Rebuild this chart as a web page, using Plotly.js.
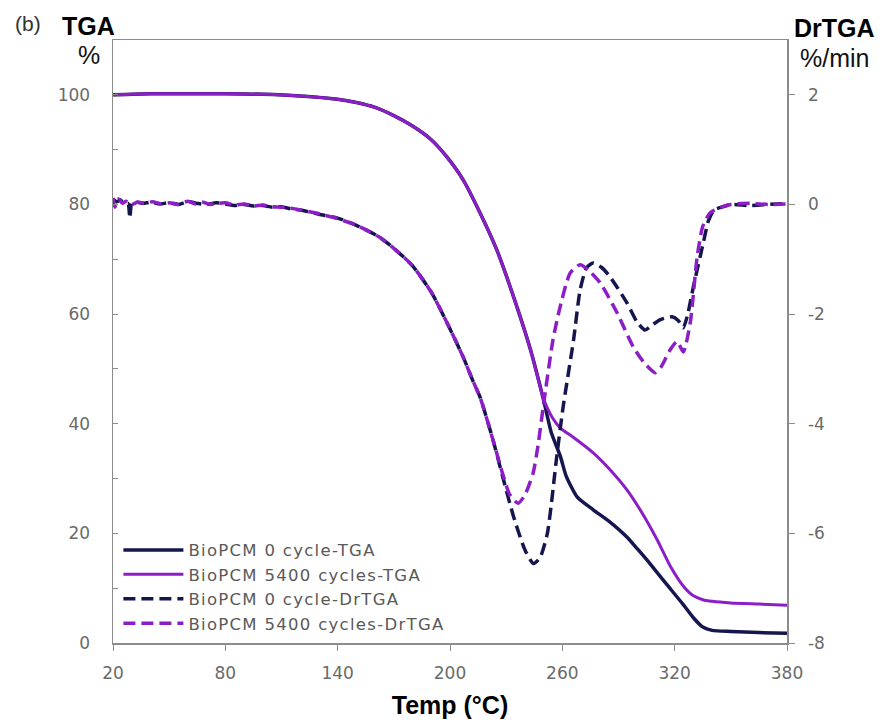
<!DOCTYPE html>
<html>
<head>
<meta charset="utf-8">
<script src="https://cdn.plot.ly/plotly-3.0.1.min.js"></script>
<style>html,body{margin:0;padding:0;background:#fff;}#chart{width:888px;height:727px;}
.legendtext{letter-spacing:1.3px;}</style>
</head>
<body>
<div id="chart"></div>
<script>
// Temperature grids (°C) and TGA mass (%)
const tempTGA0 = [20, 40, 60, 80, 100, 120, 140, 150, 160, 170, 180, 190, 198, 207, 216, 225, 234, 243, 250, 254, 259, 262, 268, 276.5, 285, 294.6, 300, 307, 315, 324.6, 330, 335, 340, 350, 365, 380];
const tga0     = [100, 100.2, 100.2, 100.2, 100.1, 99.8, 99.2, 98.6, 97.7, 96.2, 94.3, 91.8, 88.8, 84.5, 78.5, 71.7, 63.1, 53.5, 44.3, 38.5, 34, 30.5, 26.6, 24.3, 22.2, 19.3, 17.2, 14.4, 11, 7.0, 4.6, 2.9, 2.3, 2.1, 1.9, 1.8];

const tempTGA5400 = [20, 40, 60, 80, 100, 120, 140, 150, 160, 170, 180, 190, 198, 207, 216, 225, 234, 243, 250, 254, 259, 266, 276.5, 285, 294.6, 303, 310.7, 318, 325, 330, 335, 340, 350, 365, 380];
const tga5400     = [100, 100.2, 100.2, 100.2, 100.1, 99.8, 99.2, 98.6, 97.7, 96.2, 94.3, 91.8, 88.8, 84.5, 78.5, 71.7, 63.1, 53.5, 44.5, 41.5, 39.2, 37.5, 34.7, 31.8, 27.9, 23.5, 18.8, 13.8, 10.2, 8.6, 7.9, 7.6, 7.3, 7.1, 6.9];

// DrTGA (%/min)
const tempDr0 = [20, 22, 24, 26, 28, 29, 30, 32, 36, 40, 45, 50, 55, 60, 65, 70, 75, 80, 85, 90, 95, 100, 105, 110, 115, 120, 130, 140, 150, 162, 170, 180, 190, 199, 207, 212, 216, 223, 228, 234, 240, 244.5, 248, 252, 257, 260.4, 266, 269.5, 273, 276.5, 281, 285.5, 294.6, 300, 304.2, 308, 312.3, 318.6, 322, 324.6, 327, 330, 335.3, 338, 341, 345, 350, 360, 370, 380];
const dr0     = [0.1, 0.05, 0.08, 0.0, 0.02, -0.25, 0.03, 0.05, 0.02, 0.04, 0.01, 0.03, 0.0, 0.05, 0.02, 0.0, 0.03, 0.01, -0.02, 0.0, -0.03, -0.02, -0.05, -0.04, -0.08, -0.1, -0.18, -0.25, -0.38, -0.59, -0.8, -1.12, -1.6, -2.2, -2.78, -3.2, -3.51, -4.3, -4.95, -5.7, -6.3, -6.55, -6.45, -6.0, -4.6, -3.7, -2.47, -1.56, -1.15, -1.07, -1.15, -1.32, -1.8, -2.15, -2.29, -2.2, -2.1, -2.05, -2.12, -2.25, -2.0, -1.5, -0.7, -0.3, -0.1, -0.05, 0.0, -0.02, 0.0, 0.02];

const tempDr5400 = [20, 21, 23, 25, 27, 30, 33, 37, 41, 46, 50, 55, 60, 64, 68, 72, 76, 80, 85, 90, 95, 100, 105, 110, 115, 120, 130, 140, 150, 162, 170, 180, 190, 199, 207, 212, 216, 223, 228, 232, 236.4, 240, 244.4, 247, 249.8, 255, 258.8, 264.2, 269.5, 274, 280.2, 289.3, 297.9, 304, 309.6, 313, 317.6, 321.3, 324.6, 328.3, 332, 335, 339, 345, 350, 360, 370, 380];
const dr5400     = [0.12, -0.05, 0.1, 0.02, 0.06, 0.0, 0.04, 0.02, 0.05, 0.01, 0.03, 0.0, 0.06, 0.01, 0.04, 0.0, 0.02, 0.03, -0.01, 0.01, -0.03, -0.01, -0.04, -0.05, -0.07, -0.1, -0.17, -0.26, -0.38, -0.59, -0.8, -1.12, -1.6, -2.2, -2.78, -3.2, -3.51, -4.3, -4.9, -5.3, -5.45, -5.3, -4.9, -4.4, -3.69, -2.47, -1.87, -1.25, -1.1, -1.2, -1.43, -1.98, -2.6, -2.9, -3.07, -2.95, -2.65, -2.5, -2.69, -2.16, -0.96, -0.4, -0.15, -0.05, 0.0, 0.02, 0.0, 0.01];

const seriesNames = ["BioPCM 0 cycle-TGA", "BioPCM 5400 cycles-TGA", "BioPCM 0 cycle-DrTGA", "BioPCM 5400 cycles-DrTGA"];
const xTicks = [20, 80, 140, 200, 260, 320, 380];
const yTicks = [0, 20, 40, 60, 80, 100];
const y2Ticks = [-8, -6, -4, -2, 0, 2];

const NAVY = "#16164f";
const PURPLE = "#8c1ec8";
const tickFont = {family: "DejaVu Sans, sans-serif", size: 17, color: "#6a6a6a"};
const axisGray = "#8c8c8c";

const traces = [
  {x: tempTGA0, y: tga0, name: seriesNames[0], mode: "lines", line: {color: NAVY, width: 3.5, shape: "spline", smoothing: 0.6}},
  {x: tempTGA5400, y: tga5400, name: seriesNames[1], mode: "lines", line: {color: PURPLE, width: 3, shape: "spline", smoothing: 0.6}},
  {x: tempDr0, y: dr0, name: seriesNames[2], mode: "lines", yaxis: "y2", line: {color: NAVY, width: 3.5, dash: "12px,6px", shape: "spline", smoothing: 0.6}},
  {x: tempDr5400, y: dr5400, name: seriesNames[3], mode: "lines", yaxis: "y2", line: {color: PURPLE, width: 3.5, dash: "12px,6px", shape: "spline", smoothing: 0.6}}
];

const layout = {
  width: 888, height: 727,
  margin: {l: 113, r: 101, t: 40, b: 84},
  paper_bgcolor: "#ffffff", plot_bgcolor: "#ffffff",
  showlegend: true,
  legend: {x: 0.008, y: 0.183, xanchor: "left", yanchor: "top", bgcolor: "rgba(0,0,0,0)",
           font: {family: "DejaVu Sans, sans-serif", size: 16.5, color: "#595959"},
           tracegroupgap: 0, itemwidth: 60},
  xaxis: {range: [20, 380], tickvals: xTicks, ticktext: xTicks.map(String), showgrid: false, zeroline: false,
          showline: true, linecolor: axisGray, linewidth: 1.5, mirror: true,
          ticks: "outside", ticklen: 6, tickcolor: axisGray, tickfont: tickFont, ticklabelstandoff: 8,
          title: {text: "<b>Temp (°C)</b>", font: {family: "Liberation Sans, Arial, sans-serif", size: 25, color: "#000"}, standoff: 14}},
  yaxis: {range: [0, 110], tickvals: yTicks, ticktext: yTicks.map(String), showgrid: false, zeroline: false,
          showline: true, linecolor: axisGray, linewidth: 1.5,
          ticks: "inside", ticklen: 5, tickcolor: axisGray, tickfont: tickFont, ticklabelstandoff: 18,
          minor: {dtick: 10, ticks: "inside", ticklen: 5, tickcolor: axisGray, showgrid: false}},
  yaxis2: {range: [-8, 3], tickvals: y2Ticks, ticktext: y2Ticks.map(String), overlaying: "y", side: "right",
           showgrid: false, zeroline: false, showline: true, linecolor: axisGray, linewidth: 1.5,
           ticks: "outside", ticklen: 6, tickcolor: axisGray, tickfont: tickFont, ticklabelstandoff: 10},
  annotations: [
    {text: "(b)", xref: "paper", yref: "paper", x: -0.126, y: 1.028, xanchor: "center", yanchor: "middle", showarrow: false,
     font: {family: "Liberation Sans, Arial, sans-serif", size: 21, color: "#333"}},
    {text: "<b>TGA</b>", xref: "paper", yref: "paper", x: -0.037, y: 1.023, xanchor: "center", yanchor: "middle", showarrow: false,
     font: {family: "Liberation Sans, Arial, sans-serif", size: 25, color: "#000"}},
    {text: "%", xref: "paper", yref: "paper", x: -0.036, y: 0.975, xanchor: "center", yanchor: "middle", showarrow: false,
     font: {family: "Liberation Sans, Arial, sans-serif", size: 25, color: "#111"}},
    {text: "<b>DrTGA</b>", xref: "paper", yref: "paper", x: 1.071, y: 1.02, xanchor: "center", yanchor: "middle", showarrow: false,
     font: {family: "Liberation Sans, Arial, sans-serif", size: 25, color: "#000"}},
    {text: "%/min", xref: "paper", yref: "paper", x: 1.071, y: 0.970, xanchor: "center", yanchor: "middle", showarrow: false,
     font: {family: "Liberation Sans, Arial, sans-serif", size: 25, color: "#111"}}
  ]
};

Plotly.newPlot("chart", traces, layout, {displayModeBar: false, staticPlot: true});
</script>
</body>
</html>
